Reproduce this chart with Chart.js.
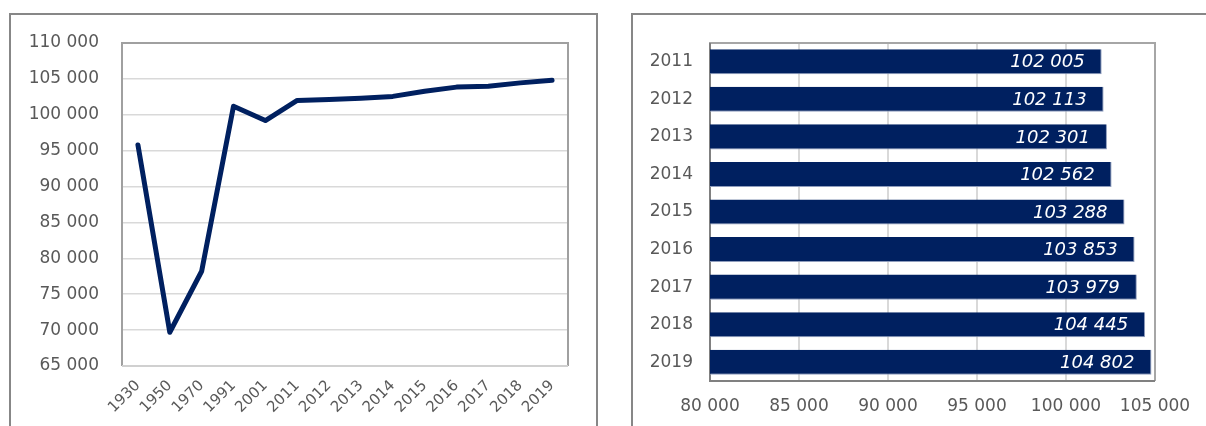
<!DOCTYPE html>
<html>
<head>
<meta charset="utf-8">
<script src="https://cdn.jsdelivr.net/npm/chart.js@4"></script>
<style>
    html, body { margin: 0; padding: 0; background: #fff; }
    body { width: 1206px; height: 426px; position: relative; overflow: hidden; }
    .panel { position: absolute; border: 2px solid #878787; box-sizing: border-box; }
    #leftPanel { left: 9px; top: 13px; width: 589px; height: 440px; }
    #rightPanel { left: 631px; top: 13px; width: 600px; height: 440px; }
    .wrap { position: absolute; top: 0; height: 426px; }
    #leftWrap { left: 0; width: 600px; }
    #rightWrap { left: 600px; width: 606px; }
</style>
</head>
<body>
<div class="panel" id="leftPanel"></div>
<div class="panel" id="rightPanel"></div>
<div class="wrap" id="leftWrap"><canvas id="lineChart" width="600" height="426"></canvas></div>
<div class="wrap" id="rightWrap"><canvas id="barChart" width="606" height="426"></canvas></div>
<script>
// data
const years = ['1930', '1950', '1970', '1991', '2001', '2011', '2012', '2013', '2014', '2015', '2016', '2017', '2018', '2019'];
const population = [95800, 69700, 78200, 101200, 99200, 102005, 102113, 102301, 102562, 103288, 103853, 103979, 104445, 104802];

const barYears = ['2011', '2012', '2013', '2014', '2015', '2016', '2017', '2018', '2019'];
const barValues = [102005, 102113, 102301, 102562, 103288, 103853, 103979, 104445, 104802];

const lineAxis = { min: 65000, max: 110000, step: 5000 };
const barAxis = { min: 80000, max: 105000, step: 5000 };

const navy = '#002060';
const tickGray = '#595959';
const gridGray = '#d9d9d9';
const font = 'DejaVu Sans';

Chart.defaults.font.family = font;
Chart.defaults.animation = false;

function fmt(v) {
    return String(v).replace(/\B(?=(\d{3})+(?!\d))/g, ' ');
}

// plot-area frame
const framePlugin = {
    id: 'frame',
    beforeDatasetsDraw(chart, args, opts) {
        const a = chart.chartArea;
        const ctx = chart.ctx;
        ctx.save();
        ctx.lineWidth = 2;
        ctx.strokeStyle = opts.color || '#a6a6a6';
        ctx.beginPath();
        ctx.moveTo(a.left, a.bottom);
        ctx.lineTo(a.left, a.top);
        ctx.lineTo(a.right, a.top);
        ctx.lineTo(a.right, a.bottom);
        ctx.stroke();
        ctx.strokeStyle = opts.bottom || '#d0d0d0';
        ctx.beginPath();
        ctx.moveTo(a.left, a.bottom);
        ctx.lineTo(a.right, a.bottom);
        ctx.stroke();
        if (opts.axis) {
            ctx.strokeStyle = opts.axis;
            ctx.beginPath();
            ctx.moveTo(a.left, a.top);
            ctx.lineTo(a.left, a.bottom);
            ctx.lineTo(a.right, a.bottom);
            ctx.stroke();
        }
        ctx.restore();
    }
};

// value labels inside the bars
const barLabelPlugin = {
    id: 'barLabels',
    afterDatasetsDraw(chart) {
        const ctx = chart.ctx;
        const meta = chart.getDatasetMeta(0);
        ctx.save();
        ctx.font = 'italic 18px "' + font + '"';
        ctx.fillStyle = '#ffffff';
        ctx.textAlign = 'right';
        ctx.textBaseline = 'middle';
        meta.data.forEach((bar, i) => {
            ctx.fillText(fmt(barValues[i]), bar.x - 17, bar.y + 1);
        });
        ctx.restore();
    }
};

// === LINE CHART ===
new Chart(document.getElementById('lineChart'), {
    type: 'line',
    data: {
        labels: years,
        datasets: [{
            data: population,
            borderColor: navy,
            borderWidth: 5,
            borderCapStyle: 'round',
            borderJoinStyle: 'round',
            pointRadius: 0,
            tension: 0
        }]
    },
    options: {
        responsive: false,
        layout: { padding: { top: 43, right: 32, left: 0, bottom: 0 } },
        plugins: {
            legend: { display: false },
            tooltip: { enabled: false },
            frame: { color: '#a0a0a0', bottom: '#d0d0d0' }
        },
        scales: {
            x: {
                offset: true,
                grid: { display: false, drawTicks: false },
                border: { display: false },
                ticks: {
                    color: tickGray,
                    font: { size: 15 },
                    minRotation: 45,
                    maxRotation: 45,
                    padding: 11
                },
                afterFit(s) { s.height = 60; }
            },
            y: {
                min: lineAxis.min,
                max: lineAxis.max,
                grid: { color: gridGray, lineWidth: 1.5, drawTicks: false },
                border: { display: false },
                ticks: {
                    stepSize: lineAxis.step,
                    color: tickGray,
                    font: { size: 17 },
                    padding: 23,
                    callback: v => fmt(v)
                },
                afterFit(s) { s.width = 122; }
            }
        }
    },
    plugins: [framePlugin]
});

// === BAR CHART ===
new Chart(document.getElementById('barChart'), {
    type: 'bar',
    data: {
        labels: barYears,
        datasets: [{
            data: barValues,
            backgroundColor: navy,
            borderColor: '#8f9dbd',
            borderWidth: { top: 0, left: 0, right: 1, bottom: 1 },
            borderSkipped: false,
            categoryPercentage: 1,
            barPercentage: 0.667
        }]
    },
    options: {
        responsive: false,
        indexAxis: 'y',
        layout: { padding: { top: 43, right: 51, left: 0, bottom: 0 } },
        plugins: {
            legend: { display: false },
            tooltip: { enabled: false },
            frame: { color: '#a6a6a6', bottom: '#808080', axis: '#808080' }
        },
        scales: {
            x: {
                min: barAxis.min,
                max: barAxis.max,
                grid: { color: gridGray, lineWidth: 2, drawTicks: false },
                border: { display: false },
                ticks: {
                    stepSize: barAxis.step,
                    color: tickGray,
                    font: { size: 17 },
                    padding: 15,
                    maxRotation: 0,
                    callback: v => fmt(v)
                },
                afterFit(s) { s.height = 45; }
            },
            y: {
                grid: { display: false, drawTicks: false },
                border: { display: false },
                ticks: {
                    color: tickGray,
                    font: { size: 17 },
                    padding: 17
                },
                afterFit(s) { s.width = 110; }
            }
        }
    },
    plugins: [framePlugin, barLabelPlugin]
});
</script>
</body>
</html>
